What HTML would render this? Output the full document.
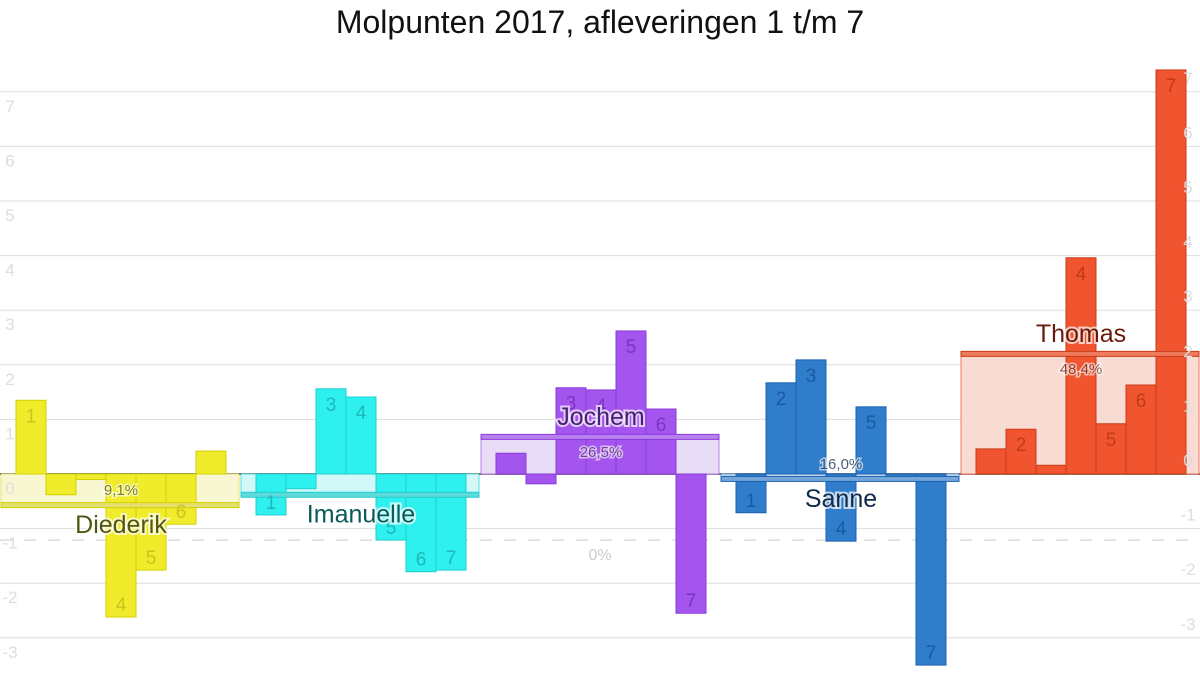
<!DOCTYPE html>
<html><head><meta charset="utf-8"><style>
html,body{margin:0;padding:0;background:#fff;}
svg{display:block;font-family:"Liberation Sans Narrow","Liberation Sans",sans-serif;}
</style></head><body>
<svg id="chart" width="1200" height="700" viewBox="0 0 1200 700">
<text x="600" y="33" text-anchor="middle" font-size="32" fill="#111">Molpunten 2017, afleveringen 1 t/m 7</text>
<g id="grid"></g><g id="bands"></g><g id="bars"></g><g id="labels"></g>
</svg>
<script>
const contestants = ["Diederik","Imanuelle","Jochem","Sanne","Thomas"];
const diederik = [1.35,-0.38,-0.1,-2.62,-1.76,-0.92,0.42];
const imanuelle = [-0.75,-0.27,1.56,1.41,-1.21,-1.79,-1.76];
const jochem = [0.38,-0.18,1.58,1.54,2.62,1.19,-2.55];
const sanne = [-0.71,1.67,2.09,-1.23,1.23,-0.05,-3.5];
const thomas = [0.46,0.82,0.16,3.96,0.92,1.63,7.4];
const averages = [-0.57,-0.38,0.68,-0.09,2.2];
const percentLabels = ["9,1%","","26,5%","16,0%","48,4%"];
const yTicks = [-3,-2,-1,0,1,2,3,4,5,6,7];
const dashedValue = -1.21;

const series=[diederik,imanuelle,jochem,sanne,thomas];
const fills=["#f0ec2c","#2ef0ee","#a455ee","#2f7dcb","#f05530"];
const strokes=["#d4d000","#1fcfcf","#8a3ddb","#1a62b0","#c83a18"];
const bandFill=["#f8f7d2","#d2f8f8","#e8dcf6","#cfe0f2","#f8dcd4"];
const lineFill=["#e4e070","#5fdada","#b980ee","#74a6da","#f07a5c"];
const nameCol=["#505510","#0b5a5a","#4a2070","#0d2a4a","#6a1a08"];
const numCol=["#c9c520","#1cb8b8","#7c33c4","#1a5aa0","#c03a18"];
const NS="http://www.w3.org/2000/svg";
const y=v=>474-v*54.6;
const groupX=i=>1+i*240;
const barX=(i,j)=>groupX(i)+15+j*30;
function mk(t,a,p,txt){const e=document.createElementNS(NS,t);for(const k in a)e.setAttribute(k,a[k]);if(txt!==undefined)e.textContent=txt;document.getElementById(p).appendChild(e);return e;}

yTicks.forEach(t=>{
  const g=mk("line",{x1:0,x2:1200,y1:y(t),y2:y(t),stroke:t===0?"#000":"#ddd","stroke-width":t===0?1.5:1},"grid");
  
  
  const l=mk("text",{x:10,y:y(t)+20,"text-anchor":"middle","font-size":17,fill:"#ddd"},"labels",String(t));
  
  
  const r=mk("text",{x:1188,y:y(t)-8,"text-anchor":"middle","font-size":17,fill:"#ddd"},"labels",String(t));
  
  
});
const dl=mk("line",{x1:0,x2:1200,y1:y(dashedValue),y2:y(dashedValue),stroke:"#ccc","stroke-dasharray":"12,12"},"grid");


const zp=mk("text",{x:600,y:y(dashedValue)+20,"text-anchor":"middle","font-size":16,fill:"#ccc"},"labels","0%");



series.forEach((vals,i)=>{
  const a=averages[i], gx=groupX(i);
  const b=mk("rect",{x:gx,y:Math.min(y(0),y(a)),width:238,height:Math.abs(y(a)-y(0)),fill:bandFill[i],stroke:lineFill[i],"stroke-width":1},"bands");
  
  
  vals.forEach((v,j)=>{
    const r=mk("rect",{x:barX(i,j),y:Math.min(y(0),y(v)),width:30,height:Math.abs(y(v)-y(0)),fill:fills[i],stroke:strokes[i],"stroke-width":1},"bars");
    
    
    if(Math.abs(v)>0.6){
      const ty=v>0?y(v)+22:y(v)-6;
      const t=mk("text",{x:barX(i,j)+15,y:ty,"text-anchor":"middle","font-size":19,fill:numCol[i]},"labels",String(j+1));
      
      
    }
  });
  const ln=mk("rect",{x:gx,y:y(a)-2.5,width:238,height:5,fill:lineFill[i],stroke:strokes[i],"stroke-width":1},"bars");
  
  
  const up=a>0.3;
  const ny=up?y(a)-12:y(a)+28;
  const n=mk("text",{x:gx+120,y:ny,"text-anchor":"middle","font-size":25,fill:nameCol[i],stroke:"#fff","stroke-width":4,"paint-order":"stroke","stroke-opacity":0.7},"labels",contestants[i]);
  
  
  if(percentLabels[i]){
    const py=up?y(a)+20:(a<-0.3?y(0)+21:y(0)-5);
    const p=mk("text",{x:gx+120,y:py,"text-anchor":"middle","font-size":15,fill:nameCol[i],"fill-opacity":0.75,stroke:"#fff","stroke-width":3,"paint-order":"stroke","stroke-opacity":0.6},"labels",percentLabels[i]);
    
    
  }
});
</script>
</body></html>
